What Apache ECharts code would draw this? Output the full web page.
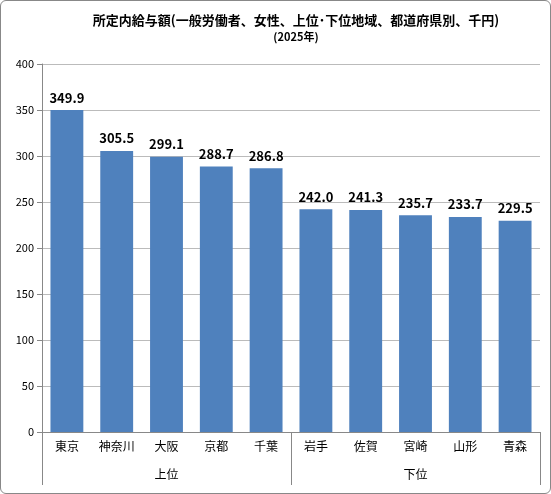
<!DOCTYPE html>
<html>
<head>
<meta charset="utf-8">
<script src="https://cdn.jsdelivr.net/npm/echarts@6/dist/echarts.min.js"></script>
<style>
  html, body { margin: 0; padding: 0; background: #fff; }
  #chart { width: 551px; height: 494px; box-sizing: border-box; border: 1px solid #888; border-radius: 6px; }
</style>
</head>
<body>
<div id="chart"></div>
<script>
// 都道府県（上位5・下位5）
const prefectures = ['東京', '神奈川', '大阪', '京都', '千葉', '岩手', '佐賀', '宮崎', '山形', '青森']
// 所定内給与額（千円）
const wages = [349.9, 305.5, 299.1, 288.7, 286.8, 242.0, 241.3, 235.7, 233.7, 229.5]
const groups = ['上位', '下位']

const chart = echarts.init(document.getElementById('chart'))
const font = '"Noto Sans CJK JP", sans-serif'

chart.setOption({
  animation: false,
  textStyle: { fontFamily: font },
  title: {
    text: '所定内給与額(一般労働者、女性、上位･下位地域、都道府県別、千円)',
    subtext: '(2025年)',
    left: 290,
    textAlign: 'center',
    top: 8,
    itemGap: 4,
    textStyle: { fontSize: 13, fontWeight: 'bold', color: '#000', fontFamily: font },
    subtextStyle: { fontSize: 11, fontWeight: 'bold', color: '#000', fontFamily: font }
  },
  grid: { left: 41, right: 10, top: 63, bottom: 61 },
  xAxis: [
    {
      type: 'category',
      data: prefectures,
      axisLine: { lineStyle: { color: '#888' } },
      axisTick: { length: 22, lineStyle: { color: '#888' } },
      axisLabel: { color: '#000', fontSize: 12, margin: 8 }
    },
    {
      type: 'category',
      data: groups,
      position: 'bottom',
      axisLine: { show: true, lineStyle: { color: 'rgba(0,0,0,0)' } },
      axisTick: { show: true, length: 53, lineStyle: { color: '#888' } },
      axisLabel: { color: '#000', fontSize: 12, margin: 36 }
    }
  ],
  yAxis: {
    type: 'value',
    min: 0,
    max: 400,
    interval: 50,
    axisLine: { show: true, lineStyle: { color: '#888' } },
    axisTick: { show: true, lineStyle: { color: '#888' } },
    axisLabel: { color: '#000', fontSize: 11 },
    splitLine: { lineStyle: { color: '#bbb' } }
  },
  series: [
    {
      type: 'bar',
      data: wages,
      barWidth: '66%',
      itemStyle: { color: '#4F81BD' },
      label: {
        show: true,
        position: 'top',
        formatter: p => p.value.toFixed(1),
        fontSize: 13,
        fontWeight: 'bold',
        color: '#000',
        distance: 6
      }
    }
  ]
})
</script>
</body>
</html>
